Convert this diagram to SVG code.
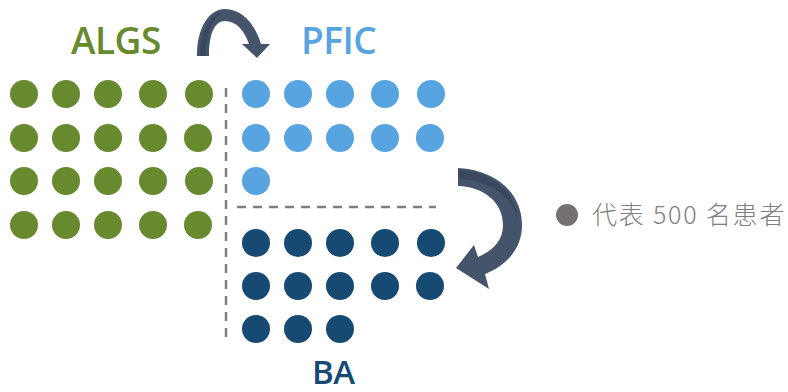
<svg xmlns="http://www.w3.org/2000/svg" width="788" height="392" viewBox="0 0 788 392">
  <style>
    .lbl { font-family: "Open Sans", "Noto Sans", sans-serif; font-weight: 600; font-size: 37px; letter-spacing: -0.5px; }
    .g { fill: #678a2f; }
    .lb { fill: #57a4e1; }
    .db { fill: #164a72; }
    .div { stroke: #7f7f7f; stroke-width: 2.5; stroke-dasharray: 9 7; fill: none; }
    .arrow { fill: #44546a; }
    .shade { fill: #39485c; }
    .legend { font-family: "Noto Sans CJK SC", "Noto Sans", sans-serif; font-size: 25px; font-weight: 300; letter-spacing: 1.8px; fill: #7f7f7f; }
  </style>
  <defs>
    <circle id="dot" r="14"/>
  </defs>

  <rect width="788" height="392" fill="#ffffff"/>

  <!-- ALGS group -->
  <g id="algs">
    <text class="lbl g" x="71" y="54">ALGS</text>
    <g class="g">
      <use href="#dot" x="24" y="94"/><use href="#dot" x="66" y="94"/><use href="#dot" x="108" y="94"/><use href="#dot" x="153" y="94"/><use href="#dot" x="199" y="94"/>
      <use href="#dot" x="24" y="138"/><use href="#dot" x="66" y="138"/><use href="#dot" x="108" y="138"/><use href="#dot" x="153" y="138"/><use href="#dot" x="198" y="138"/>
      <use href="#dot" x="24" y="181"/><use href="#dot" x="66" y="181"/><use href="#dot" x="108" y="181"/><use href="#dot" x="153" y="181"/><use href="#dot" x="199" y="181"/>
      <use href="#dot" x="24" y="225"/><use href="#dot" x="66" y="225"/><use href="#dot" x="108" y="225"/><use href="#dot" x="153" y="225"/><use href="#dot" x="198" y="225"/>
    </g>
  </g>

  <!-- PFIC group -->
  <g id="pfic">
    <text class="lbl lb" x="301" y="54">PFIC</text>
    <g class="lb">
      <use href="#dot" x="256" y="94"/><use href="#dot" x="298" y="94"/><use href="#dot" x="340" y="94"/><use href="#dot" x="385" y="94"/><use href="#dot" x="431" y="94"/>
      <use href="#dot" x="256" y="138"/><use href="#dot" x="298" y="138"/><use href="#dot" x="340" y="138"/><use href="#dot" x="385" y="138"/><use href="#dot" x="430" y="138"/>
      <use href="#dot" x="256" y="181"/>
    </g>
  </g>

  <!-- BA group -->
  <g id="ba">
    <text class="lbl db" x="312" y="384" style="font-size:33px">BA</text>
    <g class="db">
      <use href="#dot" x="256" y="243"/><use href="#dot" x="298" y="243"/><use href="#dot" x="340" y="243"/><use href="#dot" x="385" y="243"/><use href="#dot" x="431" y="243"/>
      <use href="#dot" x="256" y="286"/><use href="#dot" x="298" y="286"/><use href="#dot" x="340" y="286"/><use href="#dot" x="385" y="286"/><use href="#dot" x="430" y="286"/>
      <use href="#dot" x="256" y="329"/><use href="#dot" x="298" y="329"/><use href="#dot" x="340" y="329"/>
    </g>
  </g>

  <!-- dividers -->
  <g id="dividers">
    <line class="div" x1="226" y1="88" x2="226" y2="342"/>
    <line class="div" x1="237" y1="207" x2="436" y2="207"/>
  </g>

  <!-- curved arrows -->
  <g id="connectors">
    <path class="arrow" d="M197,56 C197,26 210,9 225,9 C242,9 255,24 261,44 L270,44 L257,58 L242,44 L249,44 C244,30 236,21 225,21 C215,21 209,33 209,56 Z"/>
    <path class="shade" d="M200,56 C200,30 211,14 224,12 C214,16 206,30 206,56 Z"/>
    <path class="arrow" d="M458,168 C498,170 522,195 522,225 C522,250 505,266 485,274 L489,289 L456,268 L474,245 L478,257 C494,250 503,240 503,225 C503,203 485,187 458,186 Z"/>
    <path class="shade" d="M458,170 C495,172 516,194 518,220 C513,198 492,181 460,179 Z"/>
  </g>

  <!-- legend -->
  <g id="legend">
    <circle cx="567" cy="215" r="11" fill="#767171"/>
    <text class="legend" x="592" y="224">代表 500 名患者</text>
  </g>
</svg>
